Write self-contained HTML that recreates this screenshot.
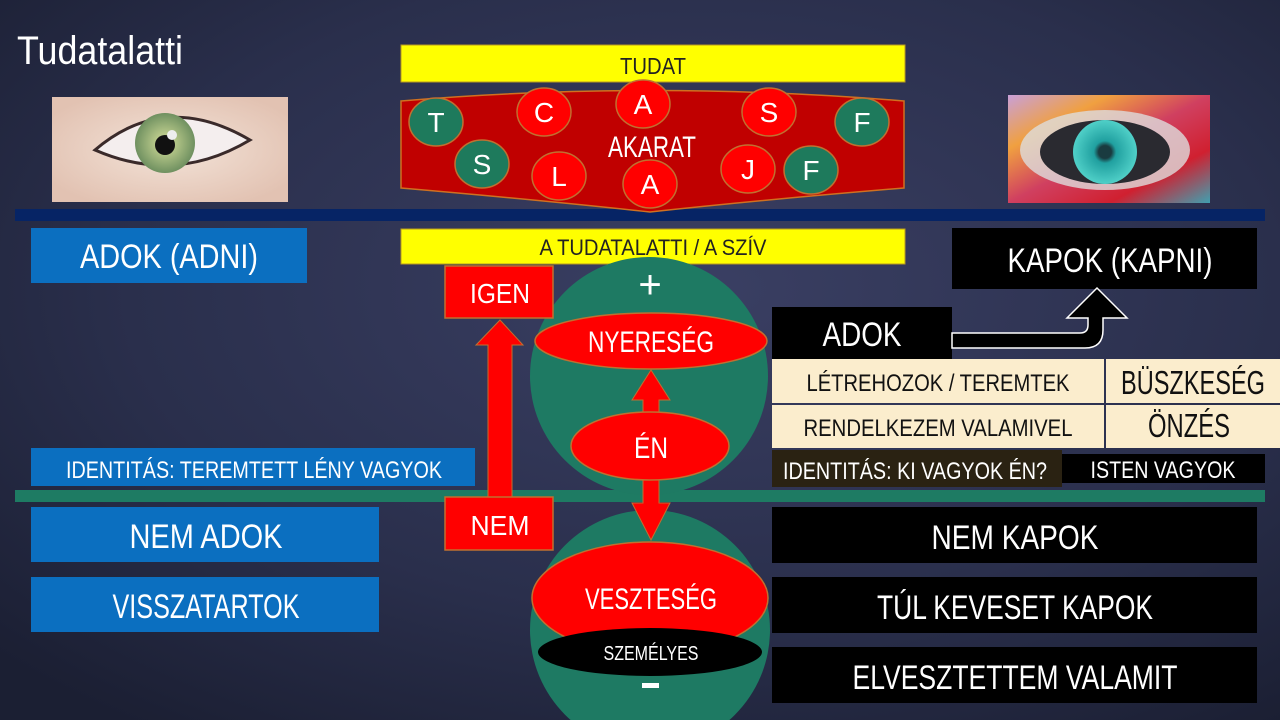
<!DOCTYPE html>
<html><head><meta charset="utf-8"><style>
html,body{margin:0;padding:0;width:1280px;height:720px;overflow:hidden;background:#23283f}
svg{display:block}
text{font-family:"Liberation Sans Narrow","Liberation Sans",sans-serif}
</style></head><body>
<svg width="1280" height="720" viewBox="0 0 1280 720" xmlns="http://www.w3.org/2000/svg">
<defs>
<radialGradient id="bg" cx="55%" cy="40%" r="75%">
<stop offset="0" stop-color="#3a3f63"/><stop offset="0.6" stop-color="#2a2f4c"/><stop offset="1" stop-color="#1b1f33"/>
</radialGradient>
<radialGradient id="skin" cx="50%" cy="50%" r="60%"><stop offset="0" stop-color="#f3e3d8"/><stop offset="1" stop-color="#e2c2b2"/></radialGradient>
<radialGradient id="iris1" cx="50%" cy="50%" r="50%"><stop offset="0.3" stop-color="#b8c98a"/><stop offset="1" stop-color="#6f9060"/></radialGradient>
<linearGradient id="rainbow" x1="0" y1="0" x2="1" y2="1">
<stop offset="0" stop-color="#c9a0d8"/><stop offset="0.25" stop-color="#f0a040"/><stop offset="0.5" stop-color="#d04060"/><stop offset="0.75" stop-color="#d02030"/><stop offset="1" stop-color="#40a0b0"/></linearGradient>
<radialGradient id="iris2" cx="50%" cy="50%" r="50%"><stop offset="0.2" stop-color="#1a3b40"/><stop offset="0.35" stop-color="#20a0a0"/><stop offset="1" stop-color="#50d0c8"/></radialGradient>
</defs>
<rect width="1280" height="720" fill="url(#bg)"/>

<text x="17" y="64" font-size="40" fill="#fff" textLength="166" lengthAdjust="spacingAndGlyphs">Tudatalatti</text>

<!-- left eye -->
<rect x="52" y="97" width="236" height="105" fill="url(#skin)"/>
<path d="M95 150 Q165 90 250 140 Q175 185 95 150Z" fill="#f4eeee" stroke="#3a2a2a" stroke-width="3"/>
<circle cx="165" cy="143" r="30" fill="url(#iris1)"/>
<circle cx="165" cy="145" r="10" fill="#111"/>
<circle cx="172" cy="135" r="5" fill="#eee"/>

<!-- right eye -->
<rect x="1008" y="95" width="202" height="108" fill="url(#rainbow)"/>
<ellipse cx="1105" cy="150" rx="85" ry="40" fill="#ddd" opacity="0.8"/>
<ellipse cx="1105" cy="152" rx="65" ry="32" fill="#2a2a30"/>
<circle cx="1105" cy="152" r="32" fill="url(#iris2)"/>

<!-- lines -->
<rect x="15" y="209" width="1250" height="12" fill="#062465"/>
<rect x="15" y="490" width="1250" height="12" fill="#1e7b63"/>

<!-- TUDAT -->
<rect x="401" y="45" width="504" height="37" fill="#ffff00" stroke="#b89a20" stroke-width="1"/>
<text x="653" y="74" font-size="23" fill="#222" text-anchor="middle" textLength="66" lengthAdjust="spacingAndGlyphs">TUDAT</text>

<!-- akarat shape -->
<path d="M401 101 Q650 80 904 101 L904 188 Q760 200 650 212 Q540 200 401 188 Z" fill="#c00000" stroke="#d07020" stroke-width="1.5"/>
<g stroke="#c07030" stroke-width="1.5" font-size="26" fill="#fff" text-anchor="middle">
<ellipse cx="436" cy="122" rx="27" ry="24" fill="#1e7a5c"/>
<ellipse cx="544" cy="112" rx="27" ry="24" fill="#ff0000"/>
<ellipse cx="643" cy="104" rx="27" ry="24" fill="#ff0000"/>
<ellipse cx="769" cy="112" rx="27" ry="24" fill="#ff0000"/>
<ellipse cx="862" cy="122" rx="27" ry="24" fill="#1e7a5c"/>
<ellipse cx="482" cy="164" rx="27" ry="24" fill="#1e7a5c"/>
<ellipse cx="559" cy="176" rx="27" ry="24" fill="#ff0000"/>
<ellipse cx="650" cy="184" rx="27" ry="24" fill="#ff0000"/>
<ellipse cx="748" cy="169" rx="27" ry="24" fill="#ff0000"/>
<ellipse cx="811" cy="170" rx="27" ry="24" fill="#1e7a5c"/>
</g>
<g font-size="28" fill="#fff" text-anchor="middle">
<text x="436" y="132">T</text><text x="544" y="122">C</text><text x="643" y="114">A</text>
<text x="769" y="122">S</text><text x="862" y="132">F</text><text x="482" y="174">S</text>
<text x="559" y="186">L</text><text x="650" y="194">A</text><text x="748" y="179">J</text><text x="811" y="180">F</text>
<text x="652" y="157" font-size="30" textLength="88" lengthAdjust="spacingAndGlyphs">AKARAT</text>
</g>

<!-- second row -->
<rect x="31" y="228" width="276" height="55" fill="#0b6fc0"/>
<text x="169" y="268" font-size="34" fill="#fff" text-anchor="middle" textLength="178" lengthAdjust="spacingAndGlyphs">ADOK (ADNI)</text>
<rect x="401" y="229" width="504" height="35" fill="#ffff00" stroke="#b89a20" stroke-width="1"/>
<text x="653" y="255" font-size="22" fill="#222" text-anchor="middle" textLength="227" lengthAdjust="spacingAndGlyphs">A TUDATALATTI / A SZÍV</text>
<rect x="952" y="228" width="305" height="61" fill="#000"/>
<text x="1110" y="272" font-size="34" fill="#fff" text-anchor="middle" textLength="205" lengthAdjust="spacingAndGlyphs">KAPOK (KAPNI)</text>

<!-- circles -->
<circle cx="649" cy="376" r="119" fill="#1e7a63"/>
<circle cx="650" cy="630" r="120" fill="#1e7a63"/>
<text x="650" y="298" font-size="40" fill="#fff" text-anchor="middle">+</text>
<rect x="642" y="683" width="17" height="5" fill="#fff"/>

<ellipse cx="651" cy="341" rx="116" ry="28" fill="#ff0000" stroke="#c07030" stroke-width="1.5"/>
<text x="651" y="352" font-size="30" fill="#fff" text-anchor="middle" textLength="126" lengthAdjust="spacingAndGlyphs">NYERESÉG</text>
<!-- up arrow between ÉN and NYERESÉG -->
<polygon points="643,413 643,400 632,400 651,370 670,400 659,400 659,413" fill="#ff0000" stroke="#c07030" stroke-width="1"/>
<!-- down arrow -->
<polygon points="643,478 659,478 659,503 670,503 651,540 632,503 643,503" fill="#ff0000" stroke="#c07030" stroke-width="1"/>
<ellipse cx="650" cy="446" rx="79" ry="34" fill="#ff0000" stroke="#c07030" stroke-width="1.5"/>
<text x="651" y="458" font-size="30" fill="#fff" text-anchor="middle" textLength="34" lengthAdjust="spacingAndGlyphs">ÉN</text>

<ellipse cx="650" cy="598" rx="118" ry="56" fill="#ff0000" stroke="#c07030" stroke-width="1.5"/>
<ellipse cx="650" cy="652" rx="112" ry="24" fill="#000"/>
<text x="651" y="609" font-size="30" fill="#fff" text-anchor="middle" textLength="132" lengthAdjust="spacingAndGlyphs">VESZTESÉG</text>
<text x="651" y="660" font-size="20" fill="#fff" text-anchor="middle" textLength="95" lengthAdjust="spacingAndGlyphs">SZEMÉLYES</text>

<!-- IGEN / NEM -->
<rect x="445" y="266" width="108" height="52" fill="#ff0000" stroke="#c07030" stroke-width="1.5"/>
<text x="500" y="303" font-size="28" fill="#fff" text-anchor="middle" textLength="60" lengthAdjust="spacingAndGlyphs">IGEN</text>
<polygon points="488,522 488,345 476,345 500,320 523,345 512,345 512,522" fill="#ff0000" stroke="#c07030" stroke-width="1"/>
<rect x="445" y="497" width="108" height="53" fill="#ff0000" stroke="#c07030" stroke-width="1.5"/>
<text x="500" y="535" font-size="28" fill="#fff" text-anchor="middle" textLength="59" lengthAdjust="spacingAndGlyphs">NEM</text>

<!-- left lower -->
<rect x="31" y="448" width="444" height="38" fill="#0b6fc0"/>
<text x="254" y="478" font-size="24" fill="#fff" text-anchor="middle" textLength="376" lengthAdjust="spacingAndGlyphs">IDENTITÁS: TEREMTETT LÉNY VAGYOK</text>
<rect x="31" y="507" width="348" height="55" fill="#0b6fc0"/>
<text x="206" y="548" font-size="34" fill="#fff" text-anchor="middle" textLength="153" lengthAdjust="spacingAndGlyphs">NEM ADOK</text>
<rect x="31" y="577" width="348" height="55" fill="#0b6fc0"/>
<text x="206" y="618" font-size="34" fill="#fff" text-anchor="middle" textLength="187" lengthAdjust="spacingAndGlyphs">VISSZATARTOK</text>

<!-- right -->
<rect x="772" y="307" width="180" height="52" fill="#000"/>
<text x="862" y="346" font-size="34" fill="#fff" text-anchor="middle" textLength="79" lengthAdjust="spacingAndGlyphs">ADOK</text>
<path d="M952 333 L1080 333 Q1088 333 1088 325 L1088 318 L1067 318 L1097 288 L1127 318 L1103 318 L1103 330 Q1103 348 1085 348 L952 348 Z" fill="#000" stroke="#fff" stroke-width="1.5"/>

<rect x="772" y="359" width="332" height="44" fill="#fbedcd"/>
<rect x="1106" y="359" width="174" height="44" fill="#fbedcd"/>
<rect x="772" y="405" width="332" height="43" fill="#fbedcd"/>
<rect x="1106" y="405" width="174" height="43" fill="#fbedcd"/>
<text x="938" y="391" font-size="24" fill="#111" text-anchor="middle" textLength="263" lengthAdjust="spacingAndGlyphs">LÉTREHOZOK / TEREMTEK</text>
<text x="938" y="436" font-size="24" fill="#111" text-anchor="middle" textLength="269" lengthAdjust="spacingAndGlyphs">RENDELKEZEM VALAMIVEL</text>
<text x="1193" y="394" font-size="33" fill="#111" text-anchor="middle" textLength="144" lengthAdjust="spacingAndGlyphs">BÜSZKESÉG</text>
<text x="1189" y="437" font-size="33" fill="#111" text-anchor="middle" textLength="82" lengthAdjust="spacingAndGlyphs">ÖNZÉS</text>

<rect x="772" y="450" width="290" height="37" fill="#2a2212"/>
<text x="915" y="479" font-size="24" fill="#fff" text-anchor="middle" textLength="264" lengthAdjust="spacingAndGlyphs">IDENTITÁS: KI VAGYOK ÉN?</text>
<rect x="1062" y="454" width="203" height="29" fill="#000"/>
<text x="1163" y="478" font-size="24" fill="#fff" text-anchor="middle" textLength="145" lengthAdjust="spacingAndGlyphs">ISTEN VAGYOK</text>

<rect x="772" y="507" width="485" height="56" fill="#000"/>
<text x="1015" y="549" font-size="34" fill="#fff" text-anchor="middle" textLength="167" lengthAdjust="spacingAndGlyphs">NEM KAPOK</text>
<rect x="772" y="577" width="485" height="56" fill="#000"/>
<text x="1015" y="619" font-size="34" fill="#fff" text-anchor="middle" textLength="276" lengthAdjust="spacingAndGlyphs">TÚL KEVESET KAPOK</text>
<rect x="772" y="647" width="485" height="56" fill="#000"/>
<text x="1015" y="689" font-size="34" fill="#fff" text-anchor="middle" textLength="325" lengthAdjust="spacingAndGlyphs">ELVESZTETTEM VALAMIT</text>
</svg>
</body></html>
